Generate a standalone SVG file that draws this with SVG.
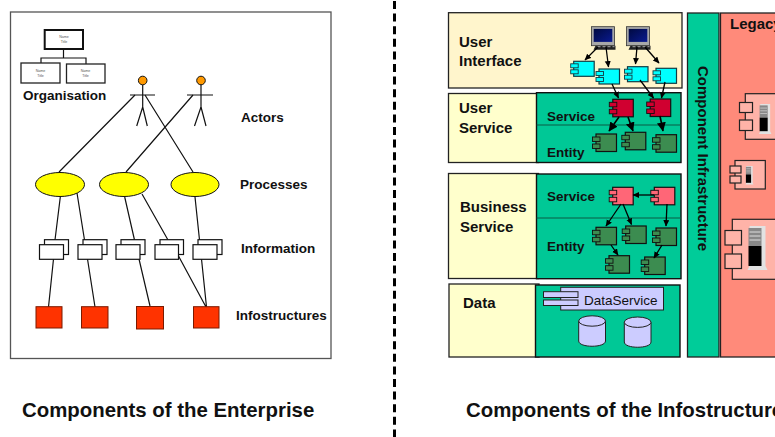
<svg xmlns="http://www.w3.org/2000/svg" width="775" height="437" viewBox="0 0 775 437">
<style>
text{font-family:"Liberation Sans",Arial,sans-serif;fill:#111}
.b{font-weight:bold;font-size:13.5px}
.h{font-weight:bold;font-size:15px}
.cap{font-weight:bold;font-size:20.4px}
.tiny{font-size:3.6px;fill:#555;text-anchor:middle}
.ln{fill:none;stroke:#111;stroke-width:1.2}
.ar{fill:none;stroke:#000;stroke-width:1.3;marker-end:url(#ah)}
.arb{fill:none;stroke:#000;stroke-width:1.6;marker-end:url(#ahb)}
.org{fill:#fff;stroke:#222;stroke-width:1.3}
.doc{fill:#fff;stroke:#111;stroke-width:1.2}
.ell{fill:#ff0;stroke:#111;stroke-width:1}
.sq{fill:#f30;stroke:#7a1a00;stroke-width:1}
.head{fill:#f90;stroke:#111;stroke-width:1}
.pane{stroke:#222;stroke-width:1.3}
.green{fill:#00c896;stroke:#111;stroke-width:1.4}
.div{stroke:#0a5a44;stroke-width:1;fill:none}
.cy{fill:#ccf;stroke:#222;stroke-width:1}
.leg{fill:#ffb3a8;stroke:#222;stroke-width:1.2}
</style>
<defs>
<marker id="ah" markerUnits="userSpaceOnUse" markerWidth="7" markerHeight="7" refX="6" refY="3" orient="auto"><path d="M0 0L6.5 3L0 6Z" fill="#000"/></marker>
<marker id="ahb" markerUnits="userSpaceOnUse" markerWidth="10" markerHeight="10" refX="8.500" refY="4.500" orient="auto"><path d="M0 0L9 4.500L0 9Z" fill="#000"/></marker>
<linearGradient id="scr" x1="0" y1="0" x2="1" y2="1"><stop offset="0" stop-color="#000a40"/><stop offset="1" stop-color="#0a1a90"/></linearGradient>
<g id="ca"><rect x="3" y="0" width="20.500" height="15" stroke="#123c44" stroke-width="1.200"/><rect x="0" y="2.500" width="7.500" height="4" stroke="#123c44" stroke-width="0.900"/><rect x="0" y="8.500" width="7.500" height="4" stroke="#123c44" stroke-width="0.900"/></g>
<g id="cb"><rect x="3.500" y="0" width="20.500" height="17.500" stroke="#111" stroke-width="1.200"/><rect x="0" y="3" width="7.500" height="4.500" stroke="#111" stroke-width="0.900"/><rect x="0" y="10" width="7.500" height="4.500" stroke="#111" stroke-width="0.900"/></g>
<g id="mon"><rect x="0" y="0" width="23" height="19" fill="#a8a8a8" stroke="#333" stroke-width="0.800"/><rect x="2.200" y="2.200" width="18.600" height="13" fill="url(#scr)"/><path d="M4 19H24V23H2Z" fill="#222"/><path d="M6 20H23" stroke="#aaa" stroke-width="1" stroke-dasharray="3 2" fill="none"/></g>
<g id="srv"><path d="M2 0H18V40L20 44H0L2 40Z" fill="#e2e2e2"/><rect x="1" y="2" width="13" height="18" fill="#888"/><path d="M2 6H13M2 10H13M2 14H13" stroke="#ddd" stroke-width="1" fill="none"/><rect x="1" y="20" width="13" height="20" fill="#000"/></g>
</defs>
<rect width="775" height="437" fill="#fff"/>

<g id="enterprise-frame"><rect x="10.500" y="12" width="320.500" height="346.500" fill="#fff" stroke="#555" stroke-width="1.300"/></g>
<g id="divider"><line x1="394.500" y1="1" x2="394.500" y2="437" stroke="#000" stroke-width="3" stroke-dasharray="8 4.600"/></g>

<g id="connectors">
<path class="ln" d="M63.500 49V58M41 63V58H86V64"/>
<path class="ln" d="M135 95L59 172M145 95L193 172M193 95L126 172"/>
<path class="ln" d="M60.300 197L55 240M77 193L84.500 240M124.700 197L134.500 240M142 194L168 240M195 197L199.500 240"/>
<path class="ln" d="M53.500 259L48.500 307M87.500 259L95 307M139 259L150 306M178.500 256L206 307M201.500 259L206.500 307"/>
</g>

<g id="org-top"><rect x="44.700" y="30" width="38.300" height="19" fill="#fff" stroke="#111" stroke-width="2"/><text class="tiny" x="64" y="38">Name</text><text class="tiny" x="64" y="43">Title</text></g>
<g id="org-left"><rect class="org" x="21" y="63" width="39" height="20"/><text class="tiny" x="40.500" y="72">Name</text><text class="tiny" x="40.500" y="76.500">Title</text></g>
<g id="org-right"><rect class="org" x="66.500" y="64" width="38.500" height="19"/><text class="tiny" x="85.500" y="72">Name</text><text class="tiny" x="85.500" y="77">Title</text></g>
<text class="b" x="23" y="100">Organisation</text>

<g id="actor-1"><circle class="head" cx="142.700" cy="80.500" r="4.300"/><path class="ln" d="M142.700 85V107M130 95H155M142.700 107L136.700 126M142.700 107L147.300 126"/></g>
<g id="actor-2"><circle class="head" cx="201" cy="80.500" r="4.300"/><path class="ln" d="M201 85V107M187 95H213M201 107L194.500 126M201 107L206 126"/></g>

<g id="process-1"><ellipse class="ell" cx="60" cy="184.500" rx="24.500" ry="12"/></g>
<g id="process-2"><ellipse class="ell" cx="124" cy="184.500" rx="24.500" ry="12"/></g>
<g id="process-3"><ellipse class="ell" cx="195" cy="184.500" rx="24" ry="12"/></g>

<g id="info-1"><rect class="doc" x="44.500" y="239.700" width="24" height="14.800"/><rect class="doc" x="39.500" y="244.700" width="24" height="14.600"/></g>
<g id="info-2"><rect class="doc" x="83" y="239.700" width="24" height="14.800"/><rect class="doc" x="78" y="244.700" width="24" height="14.600"/></g>
<g id="info-3"><rect class="doc" x="121" y="239.700" width="24" height="14.800"/><rect class="doc" x="116" y="244.700" width="24" height="14.600"/></g>
<g id="info-4"><rect class="doc" x="160" y="239.700" width="23.500" height="14.800"/><rect class="doc" x="155" y="244.700" width="23.500" height="14.600"/></g>
<g id="info-5"><rect class="doc" x="198" y="239.700" width="24" height="14.800"/><rect class="doc" x="193" y="244.700" width="24" height="14.600"/></g>

<g id="infra-1"><rect class="sq" x="36" y="306.700" width="26" height="21.300"/></g>
<g id="infra-2"><rect class="sq" x="81.500" y="306.700" width="26.500" height="21.300"/></g>
<g id="infra-3"><rect class="sq" x="136.500" y="306.500" width="27" height="22.500"/></g>
<g id="infra-4"><rect class="sq" x="193.500" y="306.700" width="25.500" height="21.300"/></g>

<text class="b" x="241" y="122">Actors</text>
<text class="b" x="240" y="189">Processes</text>
<text class="b" x="241" y="253">Information</text>
<text class="b" x="236" y="320">Infostructures</text>

<g id="user-interface"><rect class="pane" x="448.500" y="12.700" width="233.500" height="75.300" fill="#fff5cc"/><text class="h" x="459" y="46.500">User</text><text class="h" x="459" y="66">Interface</text></g>

<g id="user-service"><rect class="pane" x="448.500" y="93.500" width="90" height="69" fill="#ffffcc"/><rect class="green" x="536.500" y="92.700" width="144.500" height="69.800"/><path class="div" d="M536.500 125H681"/><text class="h" x="459" y="113">User</text><text class="h" x="459" y="132.500">Service</text><text class="b" x="547" y="120.500">Service</text><text class="b" x="547" y="157">Entity</text></g>

<g id="business-service"><rect class="pane" x="448.500" y="173.500" width="90" height="105" fill="#ffffcc"/><rect class="green" x="536.500" y="174" width="144.500" height="104.700"/><path class="div" d="M536.500 218H681"/><text class="h" x="460" y="212">Business</text><text class="h" x="460" y="232">Service</text><text class="b" x="547" y="200.500">Service</text><text class="b" x="547" y="251">Entity</text></g>

<g id="data"><rect class="pane" x="449" y="284" width="90" height="73" fill="#ffffcc"/><rect class="green" x="535.500" y="285" width="144.500" height="72"/><text class="h" x="463" y="308">Data</text></g>

<g id="component-infrastructure"><rect x="687.500" y="13" width="31.500" height="344" fill="#00cc99" stroke="#222" stroke-width="1.300"/><text class="h" transform="translate(698 66) rotate(90)">Component Infrastructure</text></g>

<g id="legacy"><rect x="720.500" y="13" width="60" height="344" fill="#ff8a7a" stroke="#222" stroke-width="1.300"/><text class="h" x="730" y="29">Legacy</text></g>

<g id="legacy-1"><rect class="leg" x="745.300" y="93.700" width="40" height="45.600"/><rect class="leg" x="739.500" y="102.500" width="13" height="10"/><rect class="leg" x="739.500" y="120" width="13" height="10.500"/><use href="#srv" transform="translate(759 104) scale(.62 .68)"/></g>
<g id="legacy-2"><rect class="leg" x="735" y="160.500" width="30.300" height="28.500"/><rect class="leg" x="730" y="166" width="11" height="7"/><rect class="leg" x="730" y="176" width="11" height="7"/><use href="#srv" transform="translate(745.500 166) scale(.4 .42)"/></g>
<g id="legacy-3"><rect class="leg" x="732.300" y="219.300" width="50" height="60"/><rect class="leg" x="725" y="230.500" width="16.500" height="14.500"/><rect class="leg" x="725" y="254" width="16.500" height="14.500"/><use href="#srv" transform="translate(747.500 226)"/></g>

<g id="monitor-1"><use href="#mon" x="591.500" y="26.700"/></g>
<g id="monitor-2"><use href="#mon" x="626.500" y="26.700"/></g>

<g id="ui-comp-1"><use href="#ca" x="570.700" y="61.300" fill="#0ff"/></g>
<g id="ui-comp-2"><use href="#ca" x="596" y="69" fill="#0ff"/></g>
<g id="ui-comp-3"><use href="#ca" x="624.500" y="66.700" fill="#0ff"/></g>
<g id="ui-comp-4"><use href="#ca" x="653" y="68.300" fill="#0ff"/></g>
<g id="us-service-1"><use href="#cb" x="609.300" y="99.300" fill="#d00030"/></g>
<g id="us-service-2"><use href="#cb" x="646.700" y="99" fill="#d00030"/></g>
<g id="us-entity-1"><use href="#cb" x="592.500" y="134" fill="#3c8c50"/></g>
<g id="us-entity-2"><use href="#cb" x="621.800" y="132.300" fill="#3c8c50"/></g>
<g id="us-entity-3"><use href="#cb" x="652.500" y="134.700" fill="#3c8c50"/></g>
<g id="bs-service-1"><use href="#cb" x="609.200" y="187.300" fill="#ff6677"/></g>
<g id="bs-service-2"><use href="#cb" x="650.800" y="187.300" fill="#ff6677"/></g>
<g id="bs-entity-1"><use href="#cb" x="592.500" y="227.300" fill="#3c8c50"/></g>
<g id="bs-entity-2"><use href="#cb" x="622.200" y="226" fill="#3c8c50"/></g>
<g id="bs-entity-3"><use href="#cb" x="652.500" y="228" fill="#3c8c50"/></g>
<g id="bs-entity-4"><use href="#cb" x="605.500" y="255.700" fill="#3c8c50"/></g>
<g id="bs-entity-5"><use href="#cb" x="641.200" y="257" fill="#3c8c50"/></g>

<g id="arrows">
<path class="ar" d="M598 47L585 60"/>
<path class="ar" d="M606 47L608.500 67"/>
<path class="ar" d="M637 47L635.500 64"/>
<path class="ar" d="M645 47L659 63"/>
<path class="ar" d="M612 84L618.500 98"/>
<path class="ar" d="M640 80L653.500 98"/>
<path class="ar" d="M665 82L661.500 98"/>
<path class="arb" d="M619 117L609 131"/>
<path class="arb" d="M628 117L633 131"/>
<path class="arb" d="M660 116L663 131"/>
<path class="ar" d="M654 195L633 195"/>
<path class="ar" d="M621 204L606 226"/>
<path class="ar" d="M623 204L631.500 224.500"/>
<path class="ar" d="M667 204L666 226"/>
<path class="ar" d="M611 245L618 255"/>
<path class="ar" d="M662 245L654 258"/>
</g>

<g id="data-service"><rect x="560.700" y="287.300" width="102.800" height="22.700" fill="#ccf" stroke="#222" stroke-width="1"/><rect x="543.500" y="291.700" width="34.500" height="5.800" fill="#ccf" stroke="#222" stroke-width="1"/><rect x="543.500" y="300" width="34.500" height="5.500" fill="#ccf" stroke="#222" stroke-width="1"/><text x="584" y="305" font-size="13.500" fill="#222">DataService</text></g>
<g id="db-1"><path class="cy" d="M578.700 321V341C578.700 348 605.500 348 605.500 341V321Z"/><ellipse class="cy" cx="592.100" cy="321" rx="13.400" ry="5.200"/></g>
<g id="db-2"><path class="cy" d="M624.300 322.200V342C624.300 349 651 349 651 342V322.200Z"/><ellipse class="cy" cx="637.650" cy="322.200" rx="13.350" ry="5.200"/></g>

<text class="cap" x="22" y="417">Components of the Enterprise</text>
<text class="cap" x="466" y="417">Components of the Infostructure</text>
</svg>
